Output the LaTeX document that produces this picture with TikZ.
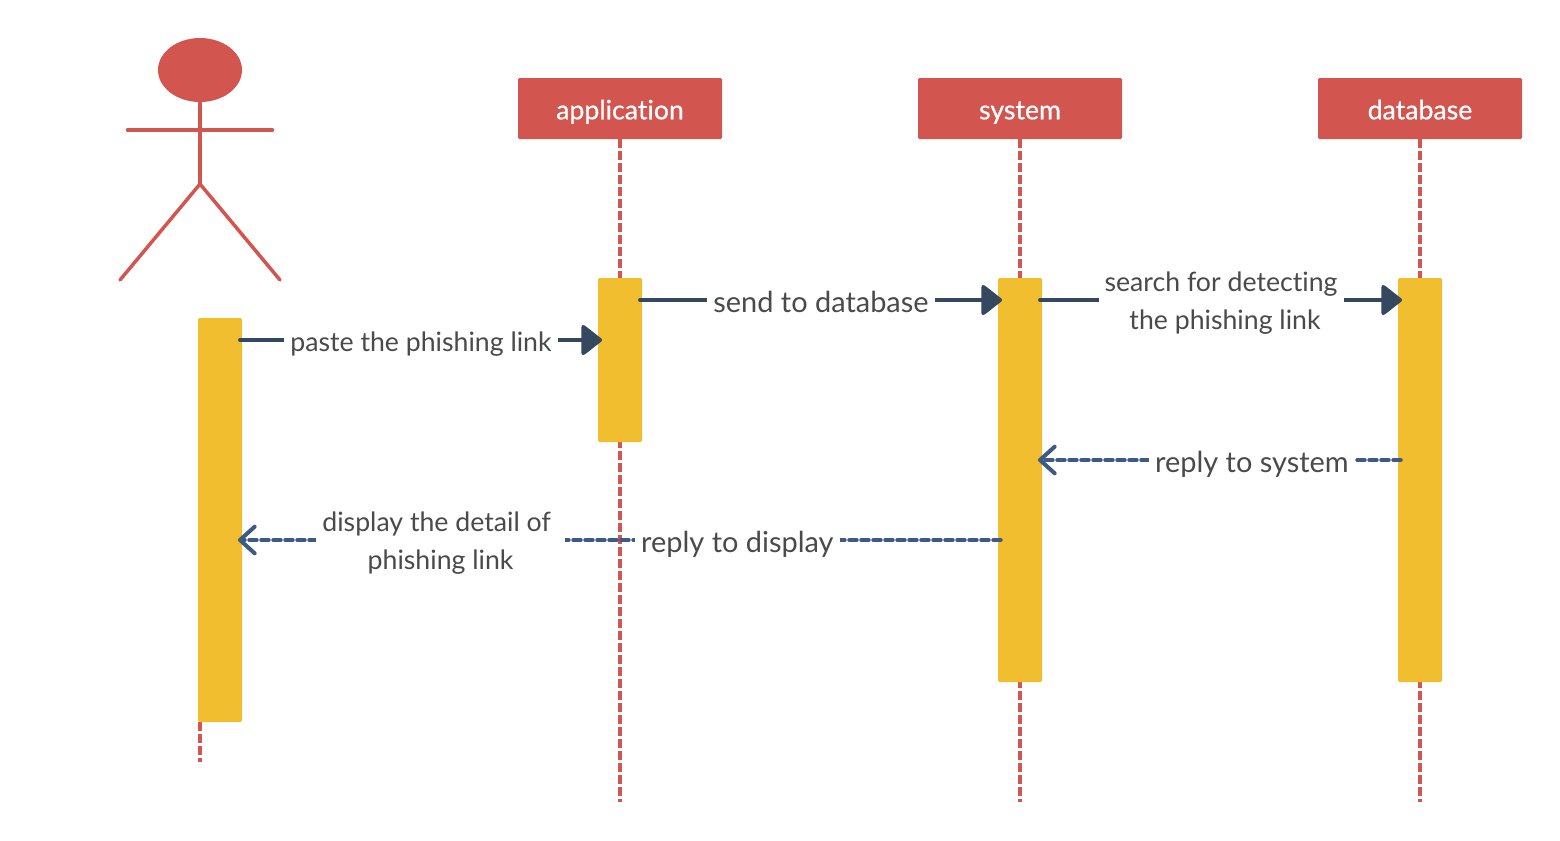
\documentclass[tikz,border=0pt]{standalone}
\usepackage{fontspec}
\setmainfont{Lato}[Ligatures=NoCommon]
\newfontfamily\headfont[FakeBold=0.6,Ligatures=NoCommon]{Lato}
\usetikzlibrary{arrows.meta,shapes.geometric}
\definecolor{headred}{HTML}{D25550}
\definecolor{baryellow}{HTML}{F1BE30}
\definecolor{solidblue}{HTML}{34495E}
\definecolor{dashblue}{HTML}{3D5A85}
\definecolor{labelgrey}{HTML}{4A4A4A}
\tikzset{
	headbox/.style={draw=none,fill=headred,text=white,rounded corners=1pt,inner sep=0,minimum width=153pt,minimum height=45.75pt,text height=20pt,text depth=3.8pt,font=\headfont\fontsize{20}{24}\selectfont},
	barbox/.style={draw=none,fill=baryellow,rounded corners=1pt,inner sep=0,minimum width=33pt},
	lifeline/.style={draw=headred,line width=2.6pt,dash pattern=on 6.6pt off 2.4pt},
	limb/.style={draw=headred,line width=2.6pt,line cap=round},
	callarrow/.style={draw=solidblue,line width=3pt,line cap=round,-{Triangle[length=16.5pt,width=25pt,round]}},
	replyarrow/.style={draw=dashblue,line width=2.6pt,line cap=round,dash pattern=on 6pt off 3pt,-{Straight Barb[length=11pt,width=20pt,round,line width=3pt]}},
	msglabel/.style={fill=white,text=labelgrey,inner xsep=4.5pt,inner ysep=0pt,align=center,font=\fontsize{20}{28.5}\selectfont},
	onelabel/.style={msglabel,text height=19.5pt,text depth=3pt},
	widelabel/.style={msglabel,text height=21pt,text depth=3pt,font=\fontsize{21.7}{28.5}\selectfont},
	twolabel/.style={msglabel,yshift=-2.25pt},
}
\begin{document}
\begin{tikzpicture}[x=0.75pt,y=-0.75pt]
	\useasboundingbox (0,0) rectangle (1560,840);
	% actor
	\node[ellipse,fill=headred,inner sep=0,minimum width=63pt,minimum height=48pt] (head) at (200,70) {};
	\coordinate (neck) at (200,184);
	\coordinate (armL) at (127.5,130);
	\coordinate (armR) at (272.5,130);
	\coordinate (legL) at (120,280);
	\coordinate (legR) at (280,280);
	\draw[limb] (head) -- (neck);
	\draw[limb] (armL) -- (armR);
	\draw[limb,line join=round] (legL) -- (neck) -- (legR);
	% heads
	\node[headbox] (application) at (620,108.5) {application};
	\node[headbox] (system) at (1020,108.5) {system};
	\node[headbox] (database) at (1420,108.5) {database};
	% lifelines
	\coordinate (actorTop) at (200,722);
	\coordinate (actorEnd) at (200,762);
	\coordinate (applicationEnd) at (620,802);
	\coordinate (systemEnd) at (1020,802);
	\coordinate (databaseEnd) at (1420,802);
	\draw[lifeline] (actorTop) -- (actorEnd);
	\draw[lifeline] (application.south) -- (applicationEnd);
	\draw[lifeline] (system.south) -- (systemEnd);
	\draw[lifeline] (database.south) -- (databaseEnd);
	% bars
	\node[barbox,minimum height=303pt] (actorBar) at (220,520) {};
	\node[barbox,minimum height=123pt] (applicationBar) at (620,360) {};
	\node[barbox,minimum height=303pt] (systemBar) at (1020,480) {};
	\node[barbox,minimum height=303pt] (databaseBar) at (1420,480) {};
	% ends of the messages
	\coordinate (pasteA) at (240,340);
	\coordinate (pasteB) at (602,340);
	\coordinate (sendA) at (640,300);
	\coordinate (sendB) at (1002,300);
	\coordinate (searchA) at (1040,300);
	\coordinate (searchB) at (1402,300);
	\coordinate (replyA) at (1401,460);
	\coordinate (replyB) at (1038,460);
	\coordinate (displayA) at (1001,540);
	\coordinate (displayB) at (238,540);
	% messages
	\draw[callarrow] (pasteA) -- node[onelabel] (pasteLabel) {paste the phishing link} (pasteB);
	\draw[callarrow] (sendA) -- node[widelabel] (sendLabel) {send to database} (sendB);
	\draw[callarrow] (searchA) -- node[twolabel] (searchLabel) {search for detecting\\\hspace*{6pt}the phishing link} (searchB);
	\draw[replyarrow] (replyA) -- node[widelabel,pos=0.411] (replyLabel) {reply to system} (replyB);
	\draw[replyarrow] (displayA) -- node[widelabel,pos=0.3455] (replyDisplayLabel) {reply to display}
		node[twolabel,pos=0.7345] (displayLabel) {display the detail of\hspace*{6pt}\\phishing link} (displayB);
\end{tikzpicture}
\end{document}
